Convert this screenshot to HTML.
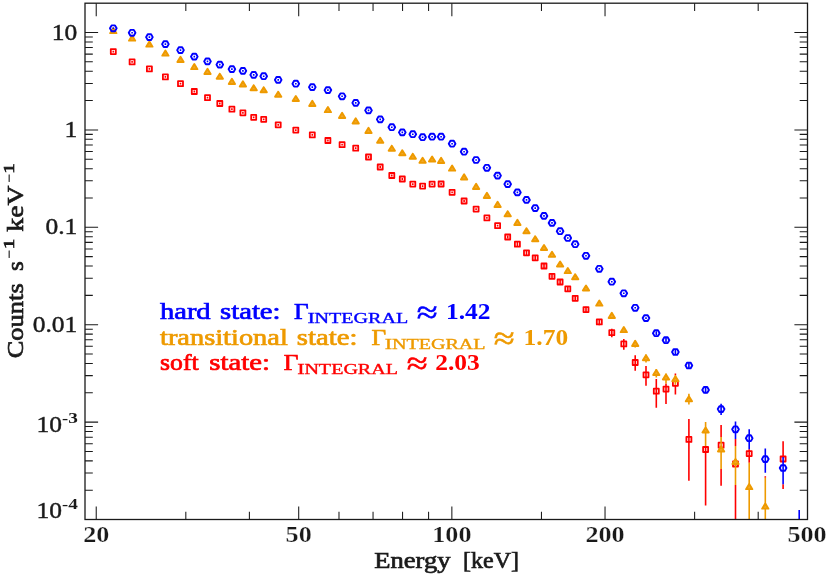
<!DOCTYPE html>
<html><head><meta charset="utf-8"><title>INTEGRAL spectra</title>
<style>html,body{margin:0;padding:0;background:#fff;}svg{display:block;font-family:"Liberation Serif",serif;font-weight:bold;will-change:transform;}</style></head><body>
<svg width="830" height="576" viewBox="0 0 830 576">
<rect width="830" height="576" fill="#ffffff"/>
<defs><clipPath id="c"><rect x="85.00" y="3.20" width="722.50" height="516.30"/></clipPath></defs>
<g clip-path="url(#c)">
<g stroke="#ff0000" fill="none" stroke-width="1.60" stroke-linejoin="miter">
<path d="M113.30 50.70V52.50M132.10 61.00V62.80M149.40 68.00V69.80M165.40 76.00V77.80M180.50 82.80V84.60M194.30 90.60V92.40M207.50 96.80V98.60M219.80 102.60V104.40M231.90 108.30V110.10M242.90 111.90V113.70M253.70 116.40V118.20M263.70 118.40V120.20M278.20 123.90V125.70M295.80 129.20V131.00M312.30 134.00V135.80M327.90 139.60V141.40M342.10 143.80V145.60M355.70 147.30V149.10M368.50 156.10V157.90M380.20 166.10V167.90M391.80 174.60V176.40M402.30 178.10V179.90M412.80 183.20V185.00M422.60 185.20V187.00M432.10 183.20V185.00M441.10 183.10V184.90M452.10 191.40V193.20M464.10 200.10V201.90M476.10 208.20V210.00M486.90 217.00V218.80M497.60 224.80V226.60M507.70 235.40V238.60M517.40 242.10V246.30M526.50 250.70V254.90M535.20 255.60V260.00M544.00 263.70V268.30M552.00 273.80V278.80M560.10 279.50V284.50M567.80 286.30V291.30M575.20 295.60V301.00M586.00 306.80V312.60M599.30 318.90V325.20M611.80 328.70V337.20M623.80 338.90V349.70M635.20 355.20V370.80M646.00 366.00V385.80M656.30 379.00V407.80M666.00 383.50V404.10M675.40 373.50V375.20M675.40 384.50V394.60M688.90 418.90V480.70M705.60 446.00V505.40M721.10 424.90V437.10M721.10 469.00V485.70M735.50 438.90V445.90M735.50 485.00V519.50M749.20 449.20V462.70M765.30 476.30V477.70M783.10 441.30V457.10M783.10 484.20V489.10"/>
</g>
<g stroke="#ff0000" fill="none" stroke-width="1.80" stroke-linejoin="round">
<rect x="110.80" y="49.10" width="5.00" height="5.00"/>
<rect x="129.60" y="59.40" width="5.00" height="5.00"/>
<rect x="146.90" y="66.40" width="5.00" height="5.00"/>
<rect x="162.90" y="74.40" width="5.00" height="5.00"/>
<rect x="178.00" y="81.20" width="5.00" height="5.00"/>
<rect x="191.80" y="89.00" width="5.00" height="5.00"/>
<rect x="205.00" y="95.20" width="5.00" height="5.00"/>
<rect x="217.30" y="101.00" width="5.00" height="5.00"/>
<rect x="229.40" y="106.70" width="5.00" height="5.00"/>
<rect x="240.40" y="110.30" width="5.00" height="5.00"/>
<rect x="251.20" y="114.80" width="5.00" height="5.00"/>
<rect x="261.20" y="116.80" width="5.00" height="5.00"/>
<rect x="275.70" y="122.30" width="5.00" height="5.00"/>
<rect x="293.30" y="127.60" width="5.00" height="5.00"/>
<rect x="309.80" y="132.40" width="5.00" height="5.00"/>
<rect x="325.40" y="138.00" width="5.00" height="5.00"/>
<rect x="339.60" y="142.20" width="5.00" height="5.00"/>
<rect x="353.20" y="145.70" width="5.00" height="5.00"/>
<rect x="366.00" y="154.50" width="5.00" height="5.00"/>
<rect x="377.70" y="164.50" width="5.00" height="5.00"/>
<rect x="389.30" y="173.00" width="5.00" height="5.00"/>
<rect x="399.80" y="176.50" width="5.00" height="5.00"/>
<rect x="410.30" y="181.60" width="5.00" height="5.00"/>
<rect x="420.10" y="183.60" width="5.00" height="5.00"/>
<rect x="429.60" y="181.60" width="5.00" height="5.00"/>
<rect x="438.60" y="181.50" width="5.00" height="5.00"/>
<rect x="449.60" y="189.80" width="5.00" height="5.00"/>
<rect x="461.60" y="198.50" width="5.00" height="5.00"/>
<rect x="473.60" y="206.60" width="5.00" height="5.00"/>
<rect x="484.40" y="215.40" width="5.00" height="5.00"/>
<rect x="495.10" y="223.20" width="5.00" height="5.00"/>
<rect x="505.20" y="234.50" width="5.00" height="5.00"/>
<rect x="514.90" y="241.70" width="5.00" height="5.00"/>
<rect x="524.00" y="250.30" width="5.00" height="5.00"/>
<rect x="532.70" y="255.30" width="5.00" height="5.00"/>
<rect x="541.50" y="263.50" width="5.00" height="5.00"/>
<rect x="549.50" y="273.80" width="5.00" height="5.00"/>
<rect x="557.60" y="279.50" width="5.00" height="5.00"/>
<rect x="565.30" y="286.30" width="5.00" height="5.00"/>
<rect x="572.70" y="295.80" width="5.00" height="5.00"/>
<rect x="583.50" y="307.10" width="5.00" height="5.00"/>
<rect x="596.80" y="319.40" width="5.00" height="5.00"/>
<rect x="609.30" y="330.20" width="5.00" height="5.00"/>
<rect x="621.30" y="341.40" width="5.00" height="5.00"/>
<rect x="632.70" y="360.00" width="5.00" height="5.00"/>
<rect x="643.50" y="372.30" width="5.00" height="5.00"/>
<rect x="653.80" y="388.70" width="5.00" height="5.00"/>
<rect x="663.50" y="386.60" width="5.00" height="5.00"/>
<rect x="672.90" y="380.80" width="5.00" height="5.00"/>
<rect x="686.40" y="436.90" width="5.00" height="5.00"/>
<rect x="703.10" y="447.00" width="5.00" height="5.00"/>
<rect x="718.60" y="442.70" width="5.00" height="5.00"/>
<rect x="733.00" y="461.50" width="5.00" height="5.00"/>
<rect x="746.70" y="451.10" width="5.00" height="5.00"/>
<rect x="780.60" y="456.50" width="5.00" height="5.00"/>
</g>
<g stroke="#ee9a00" fill="none" stroke-width="1.60" stroke-linejoin="miter">
<path d="M113.30 29.60V31.60M132.10 37.10V39.10M149.40 43.10V45.10M165.40 52.10V54.10M180.50 58.40V60.40M194.30 65.60V67.60M207.50 70.40V72.40M219.80 75.20V77.20M231.90 80.40V82.40M242.90 82.90V84.90M253.70 86.70V88.70M263.70 88.70V90.70M278.20 93.20V95.20M295.80 97.50V99.50M312.30 102.40V104.40M327.90 108.60V110.60M342.10 114.40V116.40M355.70 119.90V121.90M368.50 129.40V131.40M380.20 139.20V141.20M391.80 147.20V149.20M402.30 151.70V153.70M412.80 155.20V157.20M422.60 159.30V161.30M432.10 158.00V160.00M441.10 159.40V161.40M452.10 167.10V169.10M464.10 175.90V177.90M476.10 185.40V187.40M486.90 194.40V196.40M497.60 203.40V205.40M507.70 212.70V214.70M517.40 221.40V223.40M526.50 229.70V231.70M535.20 237.70V239.70M544.00 246.50V248.50M552.00 253.30V255.30M560.10 263.00V265.00M567.80 269.60V271.60M575.20 275.70V277.70M586.00 287.00V289.00M599.30 302.10V304.10M611.80 314.40V316.40M623.80 328.60V330.60M635.20 340.50V347.50M646.00 354.50V362.50M656.30 369.00V377.50M666.00 373.50V383.50M675.40 375.20V384.50M688.90 393.80V404.60M705.60 421.90V446.00M721.10 437.10V469.00M735.50 445.90V485.00M749.20 462.70V519.50M765.30 477.70V519.50"/>
</g>
<g stroke="#ee9a00" fill="#f0a828" stroke-width="1.90" stroke-linejoin="round">
<polygon points="113.30,28.05 110.15,33.15 116.45,33.15"/>
<polygon points="132.10,35.55 128.95,40.65 135.25,40.65"/>
<polygon points="149.40,41.55 146.25,46.65 152.55,46.65"/>
<polygon points="165.40,50.55 162.25,55.65 168.55,55.65"/>
<polygon points="180.50,56.85 177.35,61.95 183.65,61.95"/>
<polygon points="194.30,64.05 191.15,69.15 197.45,69.15"/>
<polygon points="207.50,68.85 204.35,73.95 210.65,73.95"/>
<polygon points="219.80,73.65 216.65,78.75 222.95,78.75"/>
<polygon points="231.90,78.85 228.75,83.95 235.05,83.95"/>
<polygon points="242.90,81.35 239.75,86.45 246.05,86.45"/>
<polygon points="253.70,85.15 250.55,90.25 256.85,90.25"/>
<polygon points="263.70,87.15 260.55,92.25 266.85,92.25"/>
<polygon points="278.20,91.65 275.05,96.75 281.35,96.75"/>
<polygon points="295.80,95.95 292.65,101.05 298.95,101.05"/>
<polygon points="312.30,100.85 309.15,105.95 315.45,105.95"/>
<polygon points="327.90,107.05 324.75,112.15 331.05,112.15"/>
<polygon points="342.10,112.85 338.95,117.95 345.25,117.95"/>
<polygon points="355.70,118.35 352.55,123.45 358.85,123.45"/>
<polygon points="368.50,127.85 365.35,132.95 371.65,132.95"/>
<polygon points="380.20,137.65 377.05,142.75 383.35,142.75"/>
<polygon points="391.80,145.65 388.65,150.75 394.95,150.75"/>
<polygon points="402.30,150.15 399.15,155.25 405.45,155.25"/>
<polygon points="412.80,153.65 409.65,158.75 415.95,158.75"/>
<polygon points="422.60,157.75 419.45,162.85 425.75,162.85"/>
<polygon points="432.10,156.45 428.95,161.55 435.25,161.55"/>
<polygon points="441.10,157.85 437.95,162.95 444.25,162.95"/>
<polygon points="452.10,165.55 448.95,170.65 455.25,170.65"/>
<polygon points="464.10,174.35 460.95,179.45 467.25,179.45"/>
<polygon points="476.10,183.85 472.95,188.95 479.25,188.95"/>
<polygon points="486.90,192.85 483.75,197.95 490.05,197.95"/>
<polygon points="497.60,201.85 494.45,206.95 500.75,206.95"/>
<polygon points="507.70,211.15 504.55,216.25 510.85,216.25"/>
<polygon points="517.40,219.85 514.25,224.95 520.55,224.95"/>
<polygon points="526.50,228.15 523.35,233.25 529.65,233.25"/>
<polygon points="535.20,236.15 532.05,241.25 538.35,241.25"/>
<polygon points="544.00,244.95 540.85,250.05 547.15,250.05"/>
<polygon points="552.00,251.75 548.85,256.85 555.15,256.85"/>
<polygon points="560.10,261.45 556.95,266.55 563.25,266.55"/>
<polygon points="567.80,268.05 564.65,273.15 570.95,273.15"/>
<polygon points="575.20,274.15 572.05,279.25 578.35,279.25"/>
<polygon points="586.00,285.45 582.85,290.55 589.15,290.55"/>
<polygon points="599.30,300.55 596.15,305.65 602.45,305.65"/>
<polygon points="611.80,312.85 608.65,317.95 614.95,317.95"/>
<polygon points="623.80,327.05 620.65,332.15 626.95,332.15"/>
<polygon points="635.20,340.85 632.05,345.95 638.35,345.95"/>
<polygon points="646.00,355.15 642.85,360.25 649.15,360.25"/>
<polygon points="656.30,369.95 653.15,375.05 659.45,375.05"/>
<polygon points="666.00,374.45 662.85,379.55 669.15,379.55"/>
<polygon points="675.40,376.15 672.25,381.25 678.55,381.25"/>
<polygon points="688.90,396.25 685.75,401.35 692.05,401.35"/>
<polygon points="705.60,427.45 702.45,432.55 708.75,432.55"/>
<polygon points="721.10,446.35 717.95,451.45 724.25,451.45"/>
<polygon points="735.50,458.95 732.35,464.05 738.65,464.05"/>
<polygon points="749.20,484.05 746.05,489.15 752.35,489.15"/>
<polygon points="765.30,503.55 762.15,508.65 768.45,508.65"/>
</g>
<g stroke="#0000ff" fill="none" stroke-width="1.60" stroke-linejoin="miter">
<path d="M113.30 27.50V29.10M132.10 32.00V33.60M149.40 36.30V37.90M165.40 43.30V44.90M180.50 49.30V50.90M194.30 55.80V57.40M207.50 60.60V62.20M219.80 63.80V65.40M231.90 68.30V69.90M242.90 70.10V71.70M253.70 74.10V75.70M263.70 75.40V77.00M278.20 79.10V80.70M295.80 82.90V84.50M312.30 86.30V87.90M327.90 89.30V90.90M342.10 95.50V97.10M355.70 102.10V103.70M368.50 109.60V111.20M380.20 118.60V120.20M391.80 126.40V128.00M402.30 131.60V133.20M412.80 133.40V135.00M422.60 136.40V138.00M432.10 135.90V137.50M441.10 135.90V137.50M452.10 142.90V144.50M464.10 150.90V152.50M476.10 159.20V160.80M486.90 167.00V168.60M497.60 174.80V176.40M507.70 183.30V184.90M517.40 191.60V193.20M526.50 199.10V200.70M535.20 207.30V208.90M544.00 215.10V216.70M552.00 222.10V223.70M560.10 230.40V232.00M567.80 237.20V238.80M575.20 243.40V245.00M586.00 255.00V256.60M599.30 268.00V269.60M611.80 280.90V282.50M623.80 292.50V294.10M635.20 307.00V308.60M646.00 317.30V318.90M656.30 331.20V335.20M666.00 338.00V342.40M675.40 349.60V354.40M688.90 363.00V368.00M705.60 386.50V393.30M721.10 403.80V415.10M735.50 421.40V438.90M749.20 429.30V449.20M765.30 448.40V472.80M783.10 457.10V484.20M799.20 510.10V519.50"/>
</g>
<g stroke="#0000ff" fill="none" stroke-width="1.90" stroke-linejoin="round">
<polygon points="116.65,28.30 114.97,31.20 111.62,31.20 109.95,28.30 111.62,25.40 114.97,25.40"/>
<polygon points="135.45,32.80 133.78,35.70 130.42,35.70 128.75,32.80 130.42,29.90 133.78,29.90"/>
<polygon points="152.75,37.10 151.08,40.00 147.72,40.00 146.05,37.10 147.72,34.20 151.08,34.20"/>
<polygon points="168.75,44.10 167.08,47.00 163.72,47.00 162.05,44.10 163.72,41.20 167.08,41.20"/>
<polygon points="183.85,50.10 182.18,53.00 178.82,53.00 177.15,50.10 178.82,47.20 182.18,47.20"/>
<polygon points="197.65,56.60 195.98,59.50 192.62,59.50 190.95,56.60 192.62,53.70 195.98,53.70"/>
<polygon points="210.85,61.40 209.18,64.30 205.82,64.30 204.15,61.40 205.82,58.50 209.18,58.50"/>
<polygon points="223.15,64.60 221.48,67.50 218.12,67.50 216.45,64.60 218.12,61.70 221.48,61.70"/>
<polygon points="235.25,69.10 233.58,72.00 230.22,72.00 228.55,69.10 230.22,66.20 233.58,66.20"/>
<polygon points="246.25,70.90 244.58,73.80 241.22,73.80 239.55,70.90 241.22,68.00 244.58,68.00"/>
<polygon points="257.05,74.90 255.38,77.80 252.02,77.80 250.35,74.90 252.02,72.00 255.38,72.00"/>
<polygon points="267.05,76.20 265.38,79.10 262.02,79.10 260.35,76.20 262.02,73.30 265.38,73.30"/>
<polygon points="281.55,79.90 279.88,82.80 276.52,82.80 274.85,79.90 276.52,77.00 279.88,77.00"/>
<polygon points="299.15,83.70 297.48,86.60 294.12,86.60 292.45,83.70 294.12,80.80 297.48,80.80"/>
<polygon points="315.65,87.10 313.98,90.00 310.62,90.00 308.95,87.10 310.62,84.20 313.98,84.20"/>
<polygon points="331.25,90.10 329.57,93.00 326.22,93.00 324.55,90.10 326.22,87.20 329.57,87.20"/>
<polygon points="345.45,96.30 343.78,99.20 340.43,99.20 338.75,96.30 340.43,93.40 343.78,93.40"/>
<polygon points="359.05,102.90 357.38,105.80 354.02,105.80 352.35,102.90 354.02,100.00 357.38,100.00"/>
<polygon points="371.85,110.40 370.18,113.30 366.82,113.30 365.15,110.40 366.82,107.50 370.18,107.50"/>
<polygon points="383.55,119.40 381.88,122.30 378.52,122.30 376.85,119.40 378.52,116.50 381.88,116.50"/>
<polygon points="395.15,127.20 393.48,130.10 390.12,130.10 388.45,127.20 390.12,124.30 393.48,124.30"/>
<polygon points="405.65,132.40 403.98,135.30 400.62,135.30 398.95,132.40 400.62,129.50 403.98,129.50"/>
<polygon points="416.15,134.20 414.48,137.10 411.12,137.10 409.45,134.20 411.12,131.30 414.48,131.30"/>
<polygon points="425.95,137.20 424.28,140.10 420.93,140.10 419.25,137.20 420.93,134.30 424.28,134.30"/>
<polygon points="435.45,136.70 433.78,139.60 430.43,139.60 428.75,136.70 430.43,133.80 433.78,133.80"/>
<polygon points="444.45,136.70 442.78,139.60 439.43,139.60 437.75,136.70 439.43,133.80 442.78,133.80"/>
<polygon points="455.45,143.70 453.78,146.60 450.43,146.60 448.75,143.70 450.43,140.80 453.78,140.80"/>
<polygon points="467.45,151.70 465.78,154.60 462.43,154.60 460.75,151.70 462.43,148.80 465.78,148.80"/>
<polygon points="479.45,160.00 477.78,162.90 474.43,162.90 472.75,160.00 474.43,157.10 477.78,157.10"/>
<polygon points="490.25,167.80 488.57,170.70 485.22,170.70 483.55,167.80 485.22,164.90 488.57,164.90"/>
<polygon points="500.95,175.60 499.28,178.50 495.93,178.50 494.25,175.60 495.93,172.70 499.28,172.70"/>
<polygon points="511.05,184.10 509.38,187.00 506.02,187.00 504.35,184.10 506.02,181.20 509.38,181.20"/>
<polygon points="520.75,192.40 519.07,195.30 515.73,195.30 514.05,192.40 515.73,189.50 519.07,189.50"/>
<polygon points="529.85,199.90 528.17,202.80 524.83,202.80 523.15,199.90 524.83,197.00 528.17,197.00"/>
<polygon points="538.55,208.10 536.88,211.00 533.53,211.00 531.85,208.10 533.53,205.20 536.88,205.20"/>
<polygon points="547.35,215.90 545.67,218.80 542.33,218.80 540.65,215.90 542.33,213.00 545.67,213.00"/>
<polygon points="555.35,222.90 553.67,225.80 550.33,225.80 548.65,222.90 550.33,220.00 553.67,220.00"/>
<polygon points="563.45,231.20 561.77,234.10 558.43,234.10 556.75,231.20 558.43,228.30 561.77,228.30"/>
<polygon points="571.15,238.00 569.47,240.90 566.12,240.90 564.45,238.00 566.12,235.10 569.47,235.10"/>
<polygon points="578.55,244.20 576.88,247.10 573.53,247.10 571.85,244.20 573.53,241.30 576.88,241.30"/>
<polygon points="589.35,255.80 587.67,258.70 584.33,258.70 582.65,255.80 584.33,252.90 587.67,252.90"/>
<polygon points="602.65,268.80 600.97,271.70 597.62,271.70 595.95,268.80 597.62,265.90 600.97,265.90"/>
<polygon points="615.15,281.70 613.47,284.60 610.12,284.60 608.45,281.70 610.12,278.80 613.47,278.80"/>
<polygon points="627.15,293.30 625.47,296.20 622.12,296.20 620.45,293.30 622.12,290.40 625.47,290.40"/>
<polygon points="638.55,307.80 636.88,310.70 633.53,310.70 631.85,307.80 633.53,304.90 636.88,304.90"/>
<polygon points="649.35,318.10 647.67,321.00 644.33,321.00 642.65,318.10 644.33,315.20 647.67,315.20"/>
<polygon points="659.65,333.20 657.97,336.10 654.62,336.10 652.95,333.20 654.62,330.30 657.97,330.30"/>
<polygon points="669.35,340.20 667.67,343.10 664.33,343.10 662.65,340.20 664.33,337.30 667.67,337.30"/>
<polygon points="678.75,352.00 677.07,354.90 673.73,354.90 672.05,352.00 673.73,349.10 677.07,349.10"/>
<polygon points="692.25,365.50 690.57,368.40 687.23,368.40 685.55,365.50 687.23,362.60 690.57,362.60"/>
<polygon points="708.95,389.90 707.27,392.80 703.93,392.80 702.25,389.90 703.93,387.00 707.27,387.00"/>
<polygon points="724.45,409.10 722.77,412.00 719.43,412.00 717.75,409.10 719.43,406.20 722.77,406.20"/>
<polygon points="738.85,429.30 737.17,432.20 733.83,432.20 732.15,429.30 733.83,426.40 737.17,426.40"/>
<polygon points="752.55,438.20 750.88,441.10 747.53,441.10 745.85,438.20 747.53,435.30 750.88,435.30"/>
<polygon points="768.65,459.10 766.97,462.00 763.62,462.00 761.95,459.10 763.62,456.20 766.97,456.20"/>
<polygon points="786.45,468.00 784.77,470.90 781.43,470.90 779.75,468.00 781.43,465.10 784.77,465.10"/>
</g>
</g>
<path d="M96.23 519.50v-13.10M96.23 3.20v13.10M298.70 519.50v-13.10M298.70 3.20v13.10M451.86 519.50v-13.10M451.86 3.20v13.10M605.03 519.50v-13.10M605.03 3.20v13.10M185.82 519.50v-7.80M185.82 3.20v7.80M249.39 519.50v-7.80M249.39 3.20v7.80M338.99 519.50v-7.80M338.99 3.20v7.80M373.05 519.50v-7.80M373.05 3.20v7.80M402.56 519.50v-7.80M402.56 3.20v7.80M428.58 519.50v-7.80M428.58 3.20v7.80M541.46 519.50v-7.80M541.46 3.20v7.80M694.62 519.50v-7.80M694.62 3.20v7.80M758.19 519.50v-7.80M758.19 3.20v7.80M85.00 519.50h13.10M807.50 519.50h-13.10M85.00 490.18h7.80M807.50 490.18h-7.80M85.00 473.03h7.80M807.50 473.03h-7.80M85.00 460.86h7.80M807.50 460.86h-7.80M85.00 451.42h7.80M807.50 451.42h-7.80M85.00 443.71h7.80M807.50 443.71h-7.80M85.00 437.19h7.80M807.50 437.19h-7.80M85.00 431.54h7.80M807.50 431.54h-7.80M85.00 426.56h7.80M807.50 426.56h-7.80M85.00 422.10h13.10M807.50 422.10h-13.10M85.00 392.78h7.80M807.50 392.78h-7.80M85.00 375.63h7.80M807.50 375.63h-7.80M85.00 363.46h7.80M807.50 363.46h-7.80M85.00 354.02h7.80M807.50 354.02h-7.80M85.00 346.31h7.80M807.50 346.31h-7.80M85.00 339.79h7.80M807.50 339.79h-7.80M85.00 334.14h7.80M807.50 334.14h-7.80M85.00 329.16h7.80M807.50 329.16h-7.80M85.00 324.70h13.10M807.50 324.70h-13.10M85.00 295.38h7.80M807.50 295.38h-7.80M85.00 278.23h7.80M807.50 278.23h-7.80M85.00 266.06h7.80M807.50 266.06h-7.80M85.00 256.62h7.80M807.50 256.62h-7.80M85.00 248.91h7.80M807.50 248.91h-7.80M85.00 242.39h7.80M807.50 242.39h-7.80M85.00 236.74h7.80M807.50 236.74h-7.80M85.00 231.76h7.80M807.50 231.76h-7.80M85.00 227.30h13.10M807.50 227.30h-13.10M85.00 197.98h7.80M807.50 197.98h-7.80M85.00 180.83h7.80M807.50 180.83h-7.80M85.00 168.66h7.80M807.50 168.66h-7.80M85.00 159.22h7.80M807.50 159.22h-7.80M85.00 151.51h7.80M807.50 151.51h-7.80M85.00 144.99h7.80M807.50 144.99h-7.80M85.00 139.34h7.80M807.50 139.34h-7.80M85.00 134.36h7.80M807.50 134.36h-7.80M85.00 129.90h13.10M807.50 129.90h-13.10M85.00 100.58h7.80M807.50 100.58h-7.80M85.00 83.43h7.80M807.50 83.43h-7.80M85.00 71.26h7.80M807.50 71.26h-7.80M85.00 61.82h7.80M807.50 61.82h-7.80M85.00 54.11h7.80M807.50 54.11h-7.80M85.00 47.59h7.80M807.50 47.59h-7.80M85.00 41.94h7.80M807.50 41.94h-7.80M85.00 36.96h7.80M807.50 36.96h-7.80M85.00 32.50h13.10M807.50 32.50h-13.10" stroke="#1a1a1a" stroke-width="1.05" fill="none"/>
<rect x="85.00" y="3.20" width="722.50" height="516.30" fill="none" stroke="#1a1a1a" stroke-width="1.30"/>
<text transform="translate(96.23 541.90) scale(1.0900 1)" text-anchor="middle" font-size="24.00" fill="#1a1a1a" stroke="#ffffff" stroke-width="0.25">20</text>
<text transform="translate(298.70 541.90) scale(1.0900 1)" text-anchor="middle" font-size="24.00" fill="#1a1a1a" stroke="#ffffff" stroke-width="0.25">50</text>
<text transform="translate(451.86 541.90) scale(1.0900 1)" text-anchor="middle" font-size="24.00" fill="#1a1a1a" stroke="#ffffff" stroke-width="0.25">100</text>
<text transform="translate(605.03 541.90) scale(1.0900 1)" text-anchor="middle" font-size="24.00" fill="#1a1a1a" stroke="#ffffff" stroke-width="0.25">200</text>
<text transform="translate(807.00 541.90) scale(1.0900 1)" text-anchor="middle" font-size="24.00" fill="#1a1a1a" stroke="#ffffff" stroke-width="0.25">500</text>
<text transform="translate(77.30 39.50) scale(1.0900 1)" text-anchor="end" font-size="23.40" fill="#1a1a1a" font-weight="normal" stroke="#1a1a1a" stroke-width="0.45">10</text>
<text transform="translate(77.30 136.90) scale(1.0900 1)" text-anchor="end" font-size="23.40" fill="#1a1a1a" font-weight="normal" stroke="#1a1a1a" stroke-width="0.45">1</text>
<text transform="translate(77.30 234.30) scale(1.0900 1)" text-anchor="end" font-size="23.40" fill="#1a1a1a" font-weight="normal" stroke="#1a1a1a" stroke-width="0.45">0.1</text>
<text transform="translate(77.30 331.70) scale(1.0900 1)" text-anchor="end" font-size="23.40" fill="#1a1a1a" font-weight="normal" stroke="#1a1a1a" stroke-width="0.45">0.01</text>
<text transform="translate(36.60 431.60) scale(1.0900 1)" text-anchor="start" font-size="23.40" fill="#1a1a1a" font-weight="normal" stroke="#1a1a1a" stroke-width="0.45">10</text>
<text transform="translate(62.00 423.10) scale(1.2000 1)" text-anchor="start" font-size="15.40" fill="#1a1a1a">-</text>
<text transform="translate(68.30 423.10) scale(1.2500 1)" text-anchor="start" font-size="15.40" fill="#1a1a1a">3</text>
<text transform="translate(36.60 517.50) scale(1.0900 1)" text-anchor="start" font-size="23.40" fill="#1a1a1a" font-weight="normal" stroke="#1a1a1a" stroke-width="0.45">10</text>
<text transform="translate(62.00 509.00) scale(1.2000 1)" text-anchor="start" font-size="15.40" fill="#1a1a1a">-</text>
<text transform="translate(68.30 509.00) scale(1.2500 1)" text-anchor="start" font-size="15.40" fill="#1a1a1a">4</text>
<text x="374.2" y="567.8" font-weight="normal" stroke="#1a1a1a" stroke-width="0.7" font-size="23.40" fill="#1a1a1a" textLength="76.3" lengthAdjust="spacingAndGlyphs">Energy</text>
<text x="463.0" y="567.8" font-weight="normal" stroke="#1a1a1a" stroke-width="0.7" font-size="23.40" fill="#1a1a1a" textLength="56.0" lengthAdjust="spacingAndGlyphs">[keV]</text>
<g transform="translate(22.9 358.3) rotate(-90)" fill="#1a1a1a" font-weight="normal" stroke="#1a1a1a" stroke-width="0.7">
<text x="0" y="0" font-size="23.40" textLength="75" lengthAdjust="spacingAndGlyphs">Counts</text>
<text x="87.2" y="0" font-size="23.40" textLength="9.8" lengthAdjust="spacingAndGlyphs">s</text>
<text x="99.6" y="-9.0" font-size="15" stroke-width="0.3" textLength="8.6" lengthAdjust="spacingAndGlyphs">−</text>
<text x="109.0" y="-9.0" font-size="15" textLength="10.5" lengthAdjust="spacingAndGlyphs">1</text>
<text x="126.6" y="0" font-size="23.40" textLength="46.2" lengthAdjust="spacingAndGlyphs">keV</text>
<text x="175.6" y="-9.0" font-size="15" stroke-width="0.3" textLength="8.6" lengthAdjust="spacingAndGlyphs">−</text>
<text x="184.6" y="-9.0" font-size="15" textLength="10.5" lengthAdjust="spacingAndGlyphs">1</text>
</g>
<g fill="#0000ff" stroke="#0000ff" stroke-width="0.70" font-weight="normal">
<text x="160.00" y="319.30" font-size="23.20" textLength="50.60" lengthAdjust="spacingAndGlyphs">hard</text>
<text x="220.00" y="319.30" font-size="23.20" textLength="60.60" lengthAdjust="spacingAndGlyphs">state:</text>
<text x="294.00" y="319.30" font-size="23.20" textLength="14.6" lengthAdjust="spacingAndGlyphs">Γ</text>
<text x="307.40" y="322.90" font-size="15.6" stroke-width="0.35" textLength="7.4" lengthAdjust="spacingAndGlyphs">I</text>
<text x="314.60" y="322.90" font-size="14.2" stroke-width="0.35" textLength="93.6" lengthAdjust="spacingAndGlyphs">NTEGRAL</text>
<text x="416.74" y="323.10" font-size="32" font-weight="normal" stroke-width="0.6" textLength="20.9" lengthAdjust="spacingAndGlyphs">≈</text>
<text x="446.00" y="319.30" font-size="23.20" font-weight="bold" stroke="none" textLength="44.6" lengthAdjust="spacingAndGlyphs">1.42</text>
</g>
<g fill="#ee9a00" stroke="#ee9a00" stroke-width="0.70" font-weight="normal">
<text x="160.00" y="345.00" font-size="23.20" textLength="127.80" lengthAdjust="spacingAndGlyphs">transitional</text>
<text x="296.80" y="345.00" font-size="23.20" textLength="60.60" lengthAdjust="spacingAndGlyphs">state:</text>
<text x="371.40" y="345.00" font-size="23.20" textLength="14.6" lengthAdjust="spacingAndGlyphs">Γ</text>
<text x="384.80" y="348.60" font-size="15.6" stroke-width="0.35" textLength="7.4" lengthAdjust="spacingAndGlyphs">I</text>
<text x="392.00" y="348.60" font-size="14.2" stroke-width="0.35" textLength="93.6" lengthAdjust="spacingAndGlyphs">NTEGRAL</text>
<text x="493.74" y="348.80" font-size="32" font-weight="normal" stroke-width="0.6" textLength="20.9" lengthAdjust="spacingAndGlyphs">≈</text>
<text x="523.60" y="345.00" font-size="23.20" font-weight="bold" stroke="none" textLength="44.6" lengthAdjust="spacingAndGlyphs">1.70</text>
</g>
<g fill="#ff0000" stroke="#ff0000" stroke-width="0.70" font-weight="normal">
<text x="160.00" y="370.30" font-size="23.20" textLength="38.60" lengthAdjust="spacingAndGlyphs">soft</text>
<text x="209.30" y="370.30" font-size="23.20" textLength="60.60" lengthAdjust="spacingAndGlyphs">state:</text>
<text x="283.80" y="370.30" font-size="23.20" textLength="14.6" lengthAdjust="spacingAndGlyphs">Γ</text>
<text x="297.20" y="373.90" font-size="15.6" stroke-width="0.35" textLength="7.4" lengthAdjust="spacingAndGlyphs">I</text>
<text x="304.40" y="373.90" font-size="14.2" stroke-width="0.35" textLength="93.6" lengthAdjust="spacingAndGlyphs">NTEGRAL</text>
<text x="406.74" y="374.10" font-size="32" font-weight="normal" stroke-width="0.6" textLength="20.9" lengthAdjust="spacingAndGlyphs">≈</text>
<text x="435.20" y="370.30" font-size="23.20" font-weight="bold" stroke="none" textLength="44.6" lengthAdjust="spacingAndGlyphs">2.03</text>
</g>
</svg></body></html>
